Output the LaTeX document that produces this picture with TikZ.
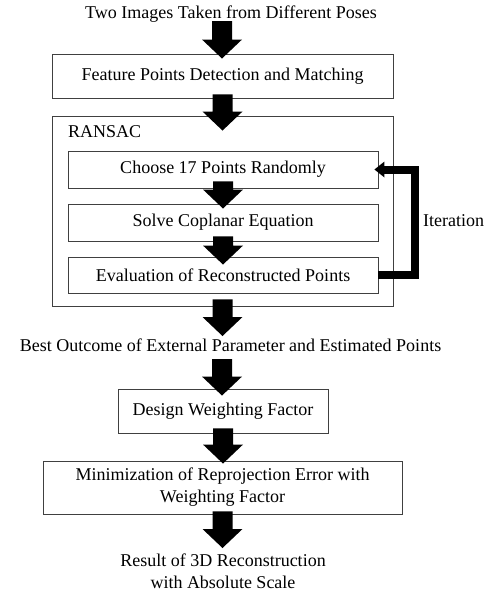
\documentclass[tikz,border=0pt]{standalone}
\usepackage{fontspec}
\setmainfont{Liberation Serif}
\usetikzlibrary{calc,arrows.meta}
\tikzset{
  box/.style={draw=black!75, line width=0.9pt, inner sep=0pt, align=center},
  blockarrow/.style={to path={let \p1=(\tikztostart), \p2=(\tikztotarget) in
    (\x1-10pt,\y1) -- (\x1+10pt,\y1) -- (\x1+10pt,\y2+19pt) -- (\x1+20pt,\y2+19pt)
    -- (\x1,\y2) -- (\x1-20pt,\y2+19pt) -- (\x1-10pt,\y2+19pt) -- cycle}},
  looparrow/.style={line width=8pt, line join=miter, -{Triangle[length=10pt,width=16pt,line width=0pt]}},
  plain/.style={inner sep=0pt}
}
\begin{document}
\begin{tikzpicture}[x=1pt, y=-1pt, font=\fontsize{18}{22}\selectfont]
\useasboundingbox (0,0) rectangle (495,597);
\node[plain, anchor=base] (title) at (231,18) {Two Images Taken from Different Poses};
\node[box, minimum width=341pt, minimum height=44pt] (fp) at (222.5,76) {Feature Points Detection and Matching};
\node[box, minimum width=341pt, minimum height=190pt] (ransac) at (222.5,211) {};
\node[plain, anchor=base west] (rl) at (68,137) {RANSAC};
\node[box, minimum width=310pt, minimum height=37pt] (choose) at (223,169.5) {Choose 17 Points Randomly};
\node[box, minimum width=310pt, minimum height=37pt] (solve) at (223,222.5) {Solve Coplanar Equation};
\node[box, minimum width=310pt, minimum height=36pt] (eval) at (223,275) {Evaluation of Reconstructed Points};
\node[plain, anchor=base] (best) at (230.5,351) {Best Outcome of External Parameter and Estimated Points};
\node[box, minimum width=210pt, minimum height=44pt] (design) at (223,411) {Design Weighting Factor};
\node[box, minimum width=359pt, minimum height=53pt] (minim) at (222.5,487.5) {Minimization of Reprojection Error with\\Weighting Factor};
\node[plain, anchor=north, align=center] (result) at (223,554) {Result of 3D Reconstruction\\with Absolute Scale};
\node[plain, anchor=base west] (iter) at (423,226) {Iteration};

\fill ([xshift=-9pt,yshift=-3pt]title.base) to[blockarrow] ([yshift=-5pt]fp.north);
\fill ([yshift=4pt]fp.south) to[blockarrow] ([yshift=-15pt]ransac.north);
\fill ([yshift=7pt]choose.south) to[blockarrow] ([yshift=-5pt]solve.north);
\fill ([yshift=5pt]solve.south) to[blockarrow] ([yshift=-8pt]eval.north);
\fill ([yshift=7pt]ransac.south) to[blockarrow] ([yshift=15pt]best.base);
\fill ([xshift=-8.5pt,yshift=-8pt]best.base) to[blockarrow] ([yshift=-7pt]design.north);
\fill ([yshift=5pt]design.south) to[blockarrow] ([yshift=-3pt]minim.north);
\fill ([yshift=3pt]minim.south) to[blockarrow] ([yshift=6pt]result.north);

\draw[looparrow] (eval.east) -- ++(37,0) |- ([xshift=-4pt]choose.east);
\end{tikzpicture}
\end{document}
